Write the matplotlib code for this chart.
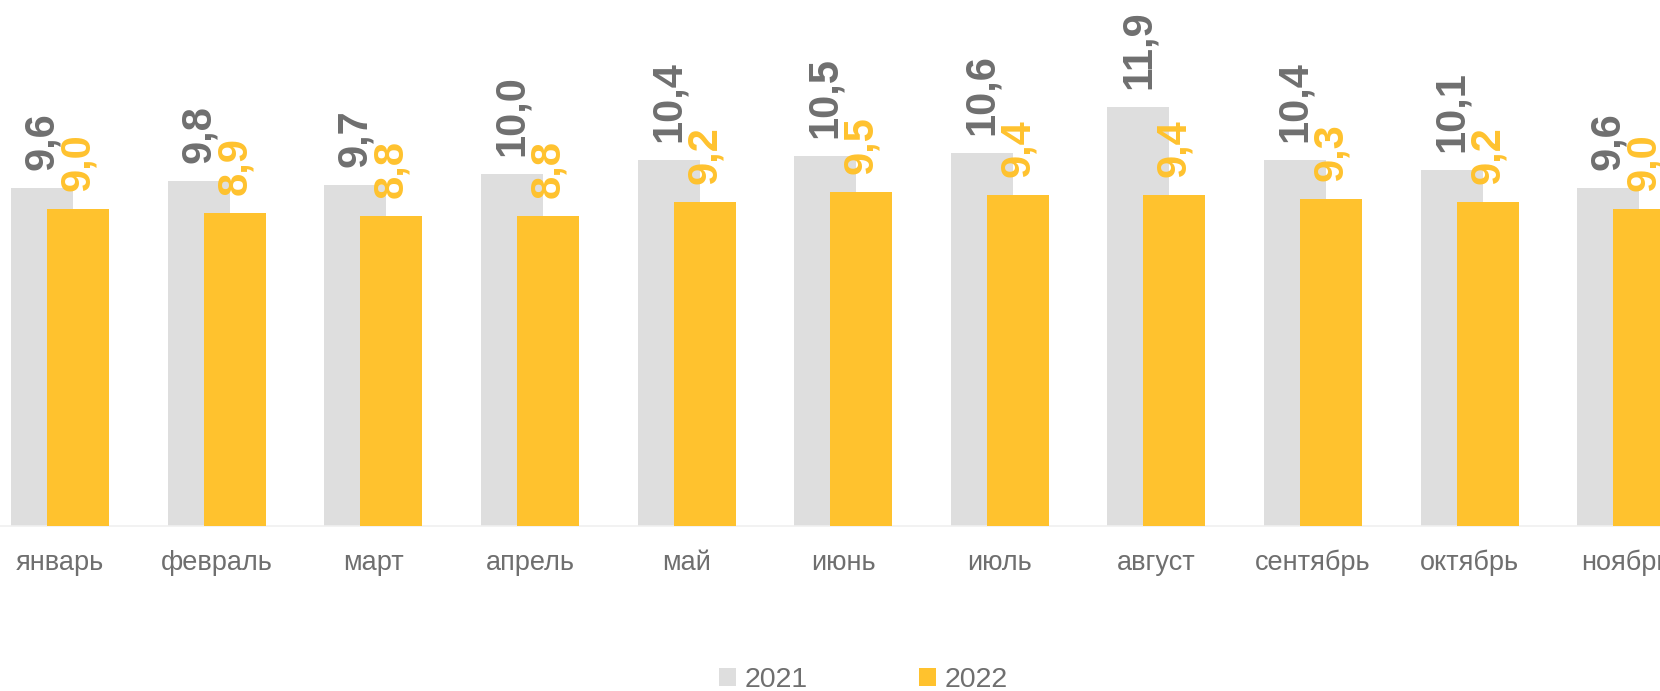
import matplotlib
matplotlib.use("Agg")
import matplotlib.pyplot as plt
import numpy as np

plt.rcParams["font.family"] = ["Liberation Sans", "DejaVu Sans"]

months = ["январь", "февраль", "март", "апрель", "май", "июнь",
          "июль", "август", "сентябрь", "октябрь", "ноябрь"]
vals_2021 = [9.6, 9.8, 9.7, 10.0, 10.4, 10.5, 10.6, 11.9, 10.4, 10.1, 9.6]
vals_2022 = [9.0, 8.9, 8.8, 8.8, 9.2, 9.5, 9.4, 9.4, 9.3, 9.2, 9.0]

GRAY = "#DEDEDE"
YELLOW = "#FFC22E"
TEXT = "#6F6F6F"

W, H = 1660, 691
fig = plt.figure(figsize=(W / 100, H / 100), dpi=100)
base_px = 526
ax = fig.add_axes([0, (H - base_px) / H, 1, base_px / H])

x = np.arange(len(months))
step = 156.6
offset = 18 / step
width = 62 / step

b1 = ax.bar(x - offset, vals_2021, width, color=GRAY, label="2021", zorder=2)
b2 = ax.bar(x + offset, vals_2022, width, color=YELLOW, label="2022", zorder=3)

for bars, vals, col in ((b1, vals_2021, TEXT), (b2, vals_2022, YELLOW)):
    for r, v in zip(bars, vals):
        ax.annotate(f"{v:.1f}".replace(".", ","),
                    (r.get_x() + r.get_width() / 2, r.get_height()),
                    xytext=(0, 13), textcoords="offset points",
                    rotation=90, ha="center", va="bottom",
                    fontsize=30, fontweight="bold", color=col, zorder=4)

ax.set_xlim(-60.2 / step, (W - 60.2) / step)
ax.set_ylim(0, base_px / 35.2)
ax.set_xticks(x)
ax.set_xticklabels(months, fontsize=19.5, color=TEXT)
ax.tick_params(axis="x", length=0, pad=17)
ax.set_yticks([])
for s in ("top", "left", "right"):
    ax.spines[s].set_visible(False)
ax.spines["bottom"].set_color("#F0F0F0")
ax.spines["bottom"].set_linewidth(1.2)
ax.patch.set_alpha(0)

leg = fig.legend(handles=[b1, b2], loc="center", bbox_to_anchor=(0.520, 0.016),
                 ncol=2, frameon=False, fontsize=20.5, handlelength=0.6,
                 handleheight=0.6, handletextpad=0.3, columnspacing=3.9)
for t in leg.get_texts():
    t.set_color(TEXT)

fig.savefig("out.png", dpi=100)
